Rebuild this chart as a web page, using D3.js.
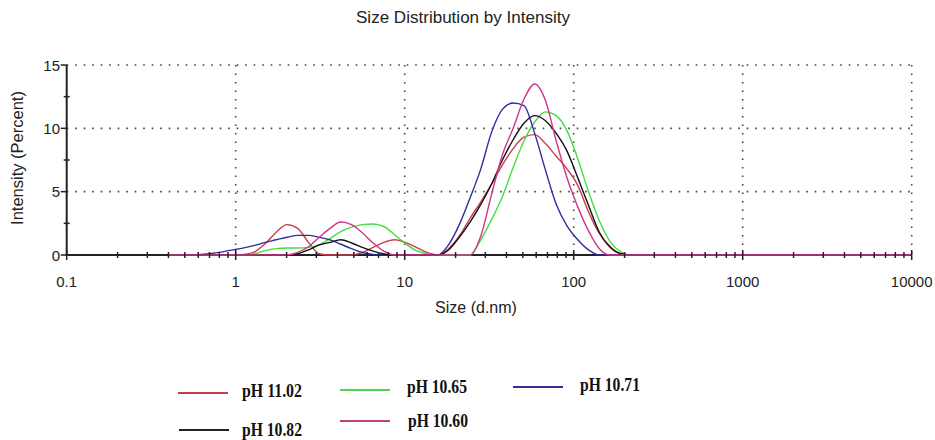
<!DOCTYPE html>
<html><head><meta charset="utf-8">
<script src="https://cdn.jsdelivr.net/npm/d3@7"></script>
<style>body{margin:0;background:#fff}svg{display:block}</style>
</head><body>
<svg id="c" width="935" height="440"></svg>
<script>
// Size bins (nm)
const sizes = [0.4,0.4632,0.5365,0.6213,0.7195,0.8332,0.9649,1.117,1.294,1.499,1.736,2.01,2.328,2.696,3.122,3.615,4.187,4.849,5.615,6.503,7.531,8.721,10.1,11.7,13.54,15.69,18.17,21.04,24.36,28.21,32.67,37.84,43.82,50.75,58.77,68.06,78.82,91.28,105.7,122.4,141.8,164.2,190.1,220.2,255,295.3,342,396.1,458.7,531.2,615.1,712.4,825,955.4,1106,1281,1484,1718,1990,2305,2669,3091,3580,4145,4801,5560,6439,7456,8635,10000];

const pH1102 = [0,0,0,0,0,0,0,0.05,0.25,0.9,1.8,2.4,2.1,1.0,0.1,0,0,0,0.2,0.6,1.0,1.2,1.0,0.6,0.2,0,0.5,1.5,2.9,4.2,5.6,7.1,8.4,9.3,9.5,8.8,7.8,6.8,5.5,3.4,1.7,0.6,0.1,0,0,0,0,0,0,0,0,0,0,0,0,0,0,0,0,0,0,0,0,0,0,0,0,0,0,0];
const pH1065 = [0,0,0,0,0,0,0,0,0.1,0.35,0.5,0.55,0.55,0.6,0.8,1.3,1.85,2.2,2.4,2.45,2.25,1.6,0.9,0.35,0.1,0,0,0,0,1.2,2.8,4.6,6.9,9.0,10.5,11.3,11.0,9.8,7.6,5.0,2.7,1.05,0.25,0,0,0,0,0,0,0,0,0,0,0,0,0,0,0,0,0,0,0,0,0,0,0,0,0,0,0];
const pH1071 = [0,0,0.02,0.05,0.12,0.25,0.4,0.56,0.76,1.0,1.2,1.4,1.55,1.55,1.4,1.2,0.85,0.5,0.2,0.05,0,0,0,0,0,0,0.8,2.4,4.5,6.8,9.7,11.5,12.0,11.8,9.6,6.7,4.0,2.3,1.2,0.4,0,0,0,0,0,0,0,0,0,0,0,0,0,0,0,0,0,0,0,0,0,0,0,0,0,0,0,0,0,0];
const pH1082 = [0,0,0,0,0,0,0,0,0,0,0,0,0.1,0.4,0.8,1.0,1.2,0.95,0.6,0.3,0.08,0,0,0,0,0,0.4,1.4,2.6,4.0,5.6,7.5,9.1,10.4,11.0,10.6,9.6,8.2,6.1,3.9,1.8,0.65,0.1,0,0,0,0,0,0,0,0,0,0,0,0,0,0,0,0,0,0,0,0,0,0,0,0,0,0,0];
const pH1060 = [0,0,0,0,0,0,0,0,0,0,0,0,0.2,0.65,1.4,2.1,2.6,2.4,1.75,0.95,0.3,0,0,0,0,0,0,0,0,1.5,4.8,7.9,10.0,12.3,13.5,12.2,9.0,6.1,3.8,1.9,0.5,0,0,0,0,0,0,0,0,0,0,0,0,0,0,0,0,0,0,0,0,0,0,0,0,0,0,0,0,0];

const seriesNames = ["pH 11.02","pH 10.65","pH 10.71","pH 10.82","pH 10.60"];
const seriesValues = [pH1102,pH1065,pH1071,pH1082,pH1060];
const seriesColors = ["#c8404c","#44dd44","#2e2e9e","#111111","#d0358a"];

const xTickValues = [0.1,1,10,100,1000,10000];
const xTickLabels = ["0.1","1","10","100","1000","10000"];
const yTickValues = [0,5,10,15];
const yTickLabels = ["0","5","10","15"];
const yMinorValues = [2.5,7.5,12.5];

const title = "Size Distribution by Intensity";
const xTitle = "Size (d.nm)";
const yTitle = "Intensity (Percent)";

const svg = d3.select("#c");
const x = d3.scaleLog().domain([0.1,10000]).range([66.7,911.7]);
const y = d3.scaleLinear().domain([0,15]).range([255,65]);

// minor x ticks
const xMinor = [];
for (let d=0.1; d<10000; d*=10) for (let k=2;k<=9;k++) xMinor.push(d*k);

const grid = svg.append("g").attr("stroke","#444").attr("stroke-width",1.6)
  .attr("stroke-dasharray","1.6,6.9").attr("fill","none");
xTickValues.slice(1).forEach(v=>{
  grid.append("line").attr("x1",x(v)).attr("x2",x(v)).attr("y1",y(15)).attr("y2",y(0));
});
yTickValues.slice(1).forEach(v=>{
  grid.append("line").attr("x1",x(0.1)).attr("x2",x(10000)).attr("y1",y(v)).attr("y2",y(v));
});

// axis lines
svg.append("line").attr("x1",x(0.1)).attr("x2",x(10000)).attr("y1",y(0)).attr("y2",y(0))
  .attr("stroke","#222").attr("stroke-width",2);
svg.append("line").attr("x1",x(0.1)).attr("x2",x(0.1)).attr("y1",y(0)+1).attr("y2",y(15))
  .attr("stroke","#222").attr("stroke-width",2);

// curves
const line = d3.line().x((d,i)=>x(sizes[i])).y(d=>y(d)).curve(d3.curveMonotoneX);
seriesValues.forEach((vals,si)=>{
  svg.append("path").datum(vals).attr("d",line).attr("fill","none")
    .attr("stroke",seriesColors[si]).attr("stroke-width",1.4);
});

// ticks on top
const tk = svg.append("g").attr("stroke","#222").attr("stroke-width",1.5);
xMinor.forEach(v=>tk.append("line").attr("x1",x(v)).attr("x2",x(v)).attr("y1",y(0)-3).attr("y2",y(0)+3));
xTickValues.forEach(v=>tk.append("line").attr("x1",x(v)).attr("x2",x(v)).attr("y1",y(0)-5).attr("y2",y(0)+5));
yMinorValues.forEach(v=>tk.append("line").attr("x1",x(0.1)-3).attr("x2",x(0.1)+3).attr("y1",y(v)).attr("y2",y(v)));
yTickValues.forEach(v=>tk.append("line").attr("x1",x(0.1)-6).attr("x2",x(0.1)).attr("y1",y(v)).attr("y2",y(v)));

// tick labels
const font = "Liberation Sans, Arial, sans-serif";
svg.append("g").selectAll("text").data(xTickValues).join("text")
  .attr("x",d=>x(d)).attr("y",287).attr("text-anchor","middle")
  .attr("font-family",font).attr("font-size",15).attr("fill","#222")
  .text((d,i)=>xTickLabels[i]);
svg.append("g").selectAll("text").data(yTickValues).join("text")
  .attr("x",60).attr("y",d=>y(d)+5.5).attr("text-anchor","end")
  .attr("font-family",font).attr("font-size",15).attr("fill","#222")
  .text((d,i)=>yTickLabels[i]);

svg.append("text").attr("x",463).attr("y",23).attr("text-anchor","middle")
  .attr("font-family",font).attr("font-size",16).attr("textLength",214).attr("lengthAdjust","spacingAndGlyphs")
  .attr("fill","#222").text(title);
svg.append("text").attr("x",476).attr("y",313).attr("text-anchor","middle")
  .attr("font-family",font).attr("font-size",16).attr("fill","#222").text(xTitle);
svg.append("text").attr("transform","translate(23,158) rotate(-90)").attr("text-anchor","middle")
  .attr("font-family",font).attr("font-size",16.5).attr("fill","#222").text(yTitle);

// legend
const legendPos = [
  {lx:178, ly:393, tx:242, ty:397},
  {lx:340, ly:390, tx:407, ty:393},
  {lx:513, ly:387, tx:580, ty:391},
  {lx:179, ly:430, tx:242, ty:436},
  {lx:340, ly:421, tx:408, ty:427}
];
const legendColors = ["#c04050","#55d055","#303090","#222222","#c04080"];
seriesNames.forEach((n,i)=>{
  const p = legendPos[i];
  svg.append("line").attr("x1",p.lx).attr("x2",p.lx+50).attr("y1",p.ly).attr("y2",p.ly)
    .attr("stroke",legendColors[i]).attr("stroke-width",1.8);
  svg.append("text").attr("x",p.tx).attr("y",p.ty)
    .attr("font-family","Liberation Serif, Times New Roman, serif").attr("font-weight","bold")
    .attr("font-size",18).attr("textLength",60).attr("lengthAdjust","spacingAndGlyphs")
    .attr("fill","#111").text(n);
});
</script>
</body></html>
